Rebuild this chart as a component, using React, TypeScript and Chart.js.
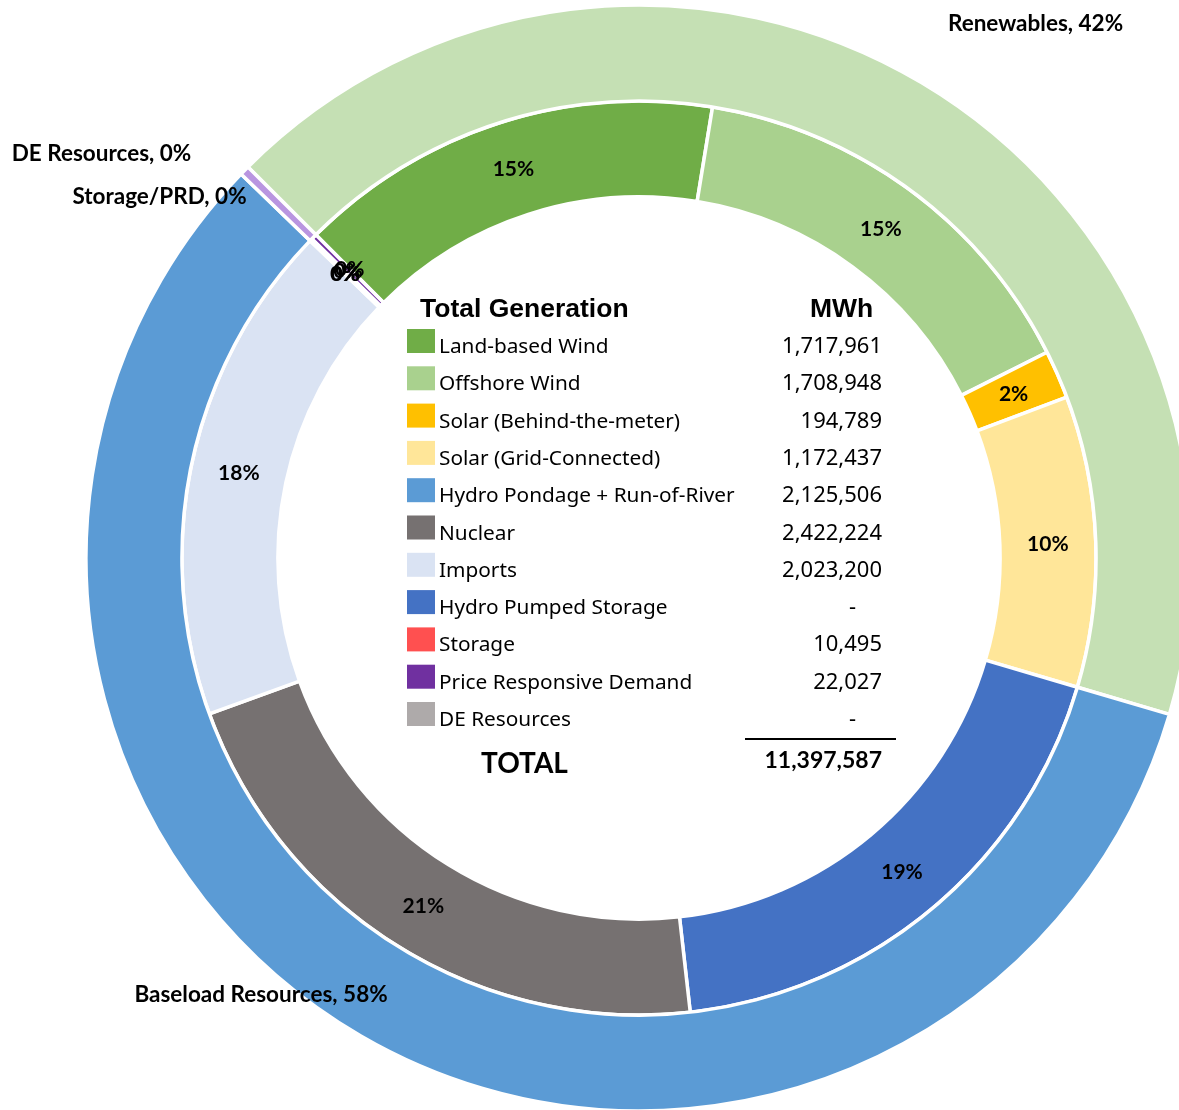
import React, { useEffect, useRef } from 'react';
import { Chart, registerables } from 'chart.js';

Chart.register(...registerables);

// ---- data ----
const itemLabels = [
  'Land-based Wind',
  'Offshore Wind',
  'Solar (Behind-the-meter)',
  'Solar (Grid-Connected)',
  'Hydro Pondage + Run-of-River',
  'Nuclear',
  'Imports',
  'Hydro Pumped Storage',
  'Storage',
  'Price Responsive Demand',
  'DE Resources',
];
const itemMWh = [1717961, 1708948, 194789, 1172437, 2125506, 2422224, 2023200, 0, 10495, 22027, 0];
const itemGroup = [0, 0, 0, 0, 1, 1, 1, 1, 2, 2, 3];
const itemSliceColors = ['#70AD47', '#A9D18E', '#FFC000', '#FFE699', '#4472C4', '#767171', '#DAE3F3', '#4472C4', '#FF5050', '#7030A0', '#AEAAAA'];
const legendSwatchColors = ['#70AD47', '#A9D18E', '#FFC000', '#FFE699', '#5B9BD5', '#767171', '#DAE3F3', '#4472C4', '#FF5050', '#7030A0', '#AEAAAA'];

const groupLabels = ['Renewables', 'Baseload Resources', 'Storage/PRD', 'DE Resources'];
const groupColors = ['#C5E0B4', '#5B9BD5', '#B995E0', '#AEAAAA'];

// layout for outer labels: [center x, baseline y]
const groupLabelAnchors = [
  [1035.5, 31],
  [261, 1002],
  [159.5, 204],
  [101.5, 161],
];

const total = itemMWh.reduce((s, v) => s + v, 0);
const groupMWh = groupLabels.map((_, g) =>
  itemMWh.reduce((s, v, i) => (itemGroup[i] === g ? s + v : s), 0)
);
const pct = (v: number) => `${Math.round((v / total) * 100)}%`;
const fmt = (v: number) => (v === 0 ? '-' : v.toLocaleString('en-US'));

const labelsPlugin = {
  id: 'customLabels',
  afterDraw(chart: any) {
    const ctx: CanvasRenderingContext2D = chart.ctx;
    ctx.save();
    ctx.fillStyle = '#000';

    // inner ring percentages
    const meta = chart.getDatasetMeta(1);
    ctx.font = 'bold 21px Lato';
    ctx.textAlign = 'center';
    ctx.textBaseline = 'alphabetic';
    meta.data.forEach((arc: any, i: number) => {
      const p = arc.getCenterPoint();
      ctx.fillText(pct(itemMWh[i]), p.x, p.y + 7.5);
    });

    // outer ring labels
    ctx.font = 'bold 22.5px Lato';
    groupLabels.forEach((name, g) => {
      const [x, y] = groupLabelAnchors[g];
      ctx.fillText(`${name}, ${pct(groupMWh[g])}`, x, y);
    });

    // center table
    ctx.textAlign = 'left';
    ctx.font = 'bold 26.5px "Liberation Sans"';
    ctx.fillText('Total Generation', 420, 317);
    ctx.fillText('MWh', 810, 317);

    const pitch = 37.3;
    itemLabels.forEach((name, i) => {
      const base = 353 + i * pitch;
      ctx.fillStyle = legendSwatchColors[i];
      ctx.fillRect(407, base - 24, 28, 24);
      ctx.fillStyle = '#000';
      ctx.textAlign = 'left';
      ctx.font = '20.8px "Noto Sans"';
      ctx.fillText(name, 439, base);
      ctx.textAlign = 'right';
      ctx.font = '22px "Noto Sans"';
      const v = itemMWh[i];
      ctx.fillText(fmt(v), v === 0 ? 856 : 882, base);
    });

    ctx.fillRect(745, 738, 151, 2);
    ctx.textAlign = 'left';
    ctx.font = 'bold 28px Lato';
    ctx.fillText('TOTAL', 481, 773);
    ctx.textAlign = 'right';
    ctx.font = 'bold 23px Lato';
    ctx.fillText(fmt(total), 882, 768);

    ctx.restore();
  },
};

export default function App() {
  const ref = useRef<HTMLCanvasElement>(null);
  useEffect(() => {
    if (!ref.current) return;
    const chart = new Chart(ref.current, {
      type: 'doughnut',
      data: {
        labels: itemLabels,
        datasets: [
          { data: groupMWh, backgroundColor: groupColors, borderColor: '#FFFFFF', borderWidth: 3.5 },
          { data: itemMWh, backgroundColor: itemSliceColors, borderColor: '#FFFFFF', borderWidth: 3.5 },
        ],
      },
      options: {
        responsive: false,
        animation: false,
        rotation: -45,
        radius: 553,
        cutout: '65.3%',
        layout: { padding: { left: 99, top: 6, right: 0, bottom: 0 } },
        plugins: { legend: { display: false }, tooltip: { enabled: false } },
      } as any,
      plugins: [labelsPlugin as any],
    });
    return () => chart.destroy();
  }, []);
  return (
    <div style={{ position: 'absolute', left: 0, top: 0, width: 1179, height: 1110, background: '#FFFFFF', overflow: 'hidden' }}>
      <canvas ref={ref} width={1179} height={1110} style={{ display: 'block' }} />
    </div>
  );
}
